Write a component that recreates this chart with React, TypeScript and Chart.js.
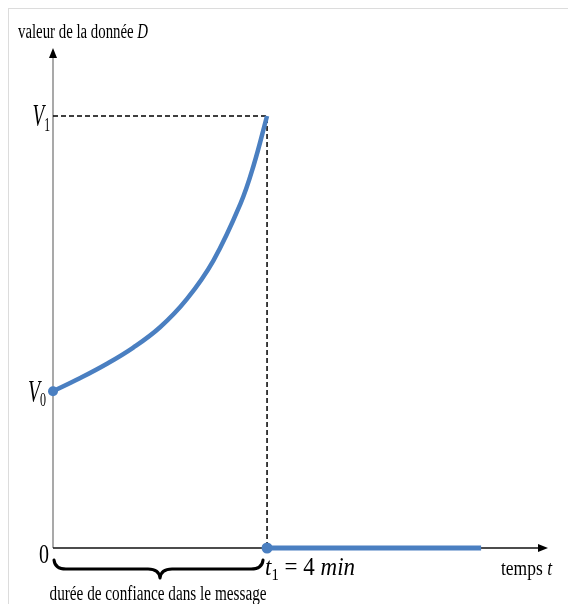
import { useEffect, useRef } from "react";
import { Chart, registerables } from "chart.js";

Chart.register(...registerables);

// ---- data ----
const curveTimes = [0, 0.5, 1, 1.5, 2, 2.5, 3, 3.5, 3.75, 4];
const curveValues = [3.63, 3.93, 4.26, 4.64, 5.11, 5.76, 6.66, 7.96, 8.86, 10];
const afterTimes = [4, 8];
const afterValues = [0, 0];
const V1 = 10;
const T1 = 4;
const X_MAX = 9.25;
const Y_MAX = 11.574;

const yTitleRuns = [
  { text: "valeur de la donnée ", italic: false },
  { text: "D", italic: true },
];
const xTitleRuns = [
  { text: "temps ", italic: false },
  { text: "t", italic: true },
];
const braceCaption = "durée de confiance dans le message";
const t1Runs = [
  { text: "t", italic: true },
  { text: "1", italic: false, sub: true },
  { text: " = 4 ", italic: false },
  { text: "min", italic: true },
];

const FONT = "'Liberation Serif', 'DejaVu Serif', 'Times New Roman', serif";
const BLUE = "#4a7fc1";

type Run = { text: string; italic: boolean; sub?: boolean };

function drawRuns(
  ctx: CanvasRenderingContext2D,
  runs: Run[],
  x: number,
  baseline: number,
  size: number,
  targetWidth: number,
  align: "left" | "right" | "center",
  subSize = size * 0.62,
  subDrop = size * 0.2
) {
  const fontFor = (r: Run) =>
    `${r.italic ? "italic " : ""}${r.sub ? subSize : size}px ${FONT}`;
  let total = 0;
  const widths = runs.map((r) => {
    ctx.font = fontFor(r);
    const w = ctx.measureText(r.text).width;
    total += w;
    return w;
  });
  const s = targetWidth / total;
  let left = x;
  if (align === "right") left = x - targetWidth;
  if (align === "center") left = x - targetWidth / 2;
  ctx.save();
  ctx.translate(left, baseline);
  ctx.scale(s, 1);
  ctx.textAlign = "left";
  ctx.textBaseline = "alphabetic";
  ctx.fillStyle = "#000";
  let cx = 0;
  runs.forEach((r, i) => {
    ctx.font = fontFor(r);
    ctx.fillText(r.text, cx, r.sub ? subDrop : 0);
    cx += widths[i];
  });
  ctx.restore();
}

const overlay = {
  id: "overlay",
  beforeDatasetsDraw(chart: any) {
    const { ctx, scales } = chart;
    const xs = scales.x;
    const ys = scales.y;
    const x0 = xs.getPixelForValue(0);
    const y0 = ys.getPixelForValue(0);
    const xEnd = xs.getPixelForValue(X_MAX);
    const yEnd = ys.getPixelForValue(Y_MAX);
    ctx.save();
    // y axis
    ctx.strokeStyle = "#858585";
    ctx.lineWidth = 1.4;
    ctx.beginPath();
    ctx.moveTo(x0, y0);
    ctx.lineTo(x0, yEnd + 8);
    ctx.stroke();
    ctx.fillStyle = "#000";
    ctx.beginPath();
    ctx.moveTo(x0, yEnd);
    ctx.lineTo(x0 - 4, yEnd + 10);
    ctx.lineTo(x0 + 4, yEnd + 10);
    ctx.closePath();
    ctx.fill();
    // x axis
    ctx.strokeStyle = "#111";
    ctx.lineWidth = 1.3;
    ctx.beginPath();
    ctx.moveTo(x0, y0);
    ctx.lineTo(xEnd - 8, y0);
    ctx.stroke();
    ctx.beginPath();
    ctx.moveTo(xEnd, y0);
    ctx.lineTo(xEnd - 10, y0 - 4);
    ctx.lineTo(xEnd - 10, y0 + 4);
    ctx.closePath();
    ctx.fill();
    ctx.restore();
  },
  afterDatasetsDraw(chart: any) {
    const { ctx, scales } = chart;
    const xs = scales.x;
    const ys = scales.y;
    const x0 = xs.getPixelForValue(0);
    const y0 = ys.getPixelForValue(0);
    const xT1 = xs.getPixelForValue(T1);
    const xEnd = xs.getPixelForValue(X_MAX);
    const yEnd = ys.getPixelForValue(Y_MAX);
    const yV1 = ys.getPixelForValue(V1);
    const yV0 = ys.getPixelForValue(curveValues[0]);

    // axis titles
    drawRuns(ctx, yTitleRuns, x0 - 35, yEnd - 10, 20, 130, "left");
    drawRuns(ctx, xTitleRuns, xEnd - 47, y0 + 27, 20, 51, "left");

    // V1, V0, 0
    drawRuns(
      ctx,
      [
        { text: "V", italic: true },
        { text: "1", italic: false, sub: true },
      ],
      x0 - 3,
      yV1 + 10,
      31,
      17.5,
      "right",
      19,
      5
    );
    drawRuns(
      ctx,
      [
        { text: "V", italic: true },
        { text: "0", italic: false, sub: true },
      ],
      x0 - 7,
      yV0 + 11,
      31,
      18,
      "right",
      19,
      4
    );
    drawRuns(ctx, [{ text: "0", italic: false }], x0 - 4, y0 + 15, 27, 10, "right");

    // t1 = 4 min
    drawRuns(ctx, t1Runs, xT1 - 2, y0 + 27, 25, 90, "left", 16, 5);

    // brace
    const xa = x0 + 1;
    const xb = xT1 - 4;
    const xm = (x0 + xT1) / 2;
    const yt = y0 + 12;
    const yf = y0 + 21;
    const ytip = y0 + 30;
    ctx.save();
    ctx.strokeStyle = "#000";
    ctx.lineWidth = 3;
    ctx.lineCap = "round";
    ctx.lineJoin = "round";
    ctx.beginPath();
    ctx.moveTo(xa, yt);
    ctx.quadraticCurveTo(xa + 1, yf, xa + 12, yf);
    ctx.lineTo(xm - 12, yf);
    ctx.quadraticCurveTo(xm - 1, yf, xm, ytip);
    ctx.quadraticCurveTo(xm + 1, yf, xm + 12, yf);
    ctx.lineTo(xb - 12, yf);
    ctx.quadraticCurveTo(xb - 1, yf, xb, yt);
    ctx.stroke();
    ctx.restore();

    drawRuns(
      ctx,
      [{ text: braceCaption, italic: false }],
      xm - 2,
      y0 + 52,
      20,
      217,
      "center"
    );
  },
};

export default function App() {
  const ref = useRef<HTMLCanvasElement>(null);
  useEffect(() => {
    const canvas = ref.current;
    if (!canvas) return;
    const chart = new Chart(canvas, {
      type: "line",
      data: {
        datasets: [
          {
            data: curveTimes.map((t, i) => ({ x: t, y: curveValues[i] })),
            borderColor: BLUE,
            backgroundColor: BLUE,
            borderWidth: 4.5,
            tension: 0.4,
            pointRadius: curveTimes.map((_, i) => (i === 0 ? 5 : 0)),
            pointHoverRadius: 0,
            pointBorderWidth: 0,
            clip: false,
          } as any,
          {
            data: afterTimes.map((t, i) => ({ x: t, y: afterValues[i] })),
            borderColor: BLUE,
            backgroundColor: BLUE,
            borderWidth: 5,
            pointRadius: afterTimes.map((_, i) => (i === 0 ? 5.5 : 0)),
            pointHoverRadius: 0,
            pointBorderWidth: 0,
            clip: false,
          } as any,
          {
            data: [
              { x: 0, y: V1 },
              { x: T1, y: V1 },
              { x: T1, y: 0 },
            ],
            borderColor: "#000",
            borderWidth: 1.5,
            borderDash: [5, 3],
            pointRadius: 0,
            pointHoverRadius: 0,
            tension: 0,
            clip: false,
          } as any,
        ],
      },
      options: {
        animation: false,
        responsive: false,
        events: [],
        layout: { padding: { left: 44, right: 20, top: 39, bottom: 56 } },
        plugins: {
          legend: { display: false },
          tooltip: { enabled: false },
        },
        scales: {
          x: { type: "linear", min: 0, max: X_MAX, display: false },
          y: { type: "linear", min: 0, max: Y_MAX, display: false },
        },
      },
      plugins: [overlay],
    });
    return () => chart.destroy();
  }, []);
  return (
    <div
      style={{
        position: "absolute",
        left: 8,
        top: 8,
        width: 560,
        height: 596,
        borderTop: "1px solid #dcdcdc",
        borderLeft: "1px solid #dcdcdc",
        background: "#fff",
        boxSizing: "border-box",
      }}
    >
      <canvas ref={ref} width={559} height={595} style={{ display: "block", width: 559, height: 595 }} />
    </div>
  );
}
